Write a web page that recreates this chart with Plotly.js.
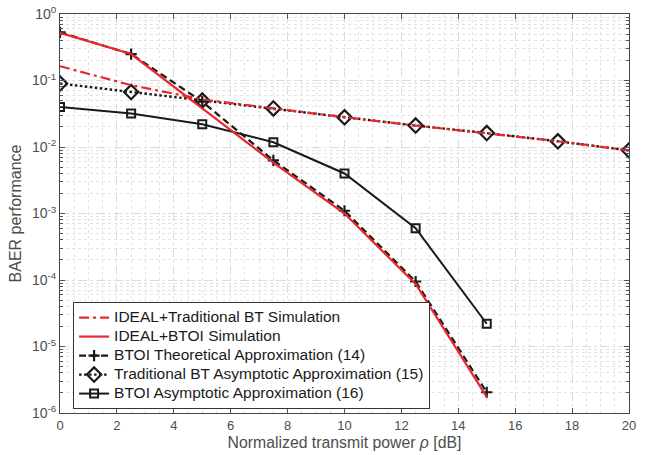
<!DOCTYPE html>
<html><head><meta charset="utf-8">
<script src="https://cdn.plot.ly/plotly-3.0.1.min.js"></script>
<style>html,body{margin:0;padding:0;background:#fff}#chart{width:648px;height:455px}</style>
</head><body><div id="chart"></div>
<script>
const xFull = [0, 2.5, 5, 7.5, 10, 12.5, 15, 17.5, 20];
const xBTOI = [0, 2.5, 5, 7.5, 10, 12.5, 15];
const idealTraditional = [0.164, 0.085, 0.052, 0.038, 0.028, 0.021, 0.0162, 0.0122, 0.0089];
const idealBTOI = [0.52, 0.25, 0.038, 0.0058, 0.00100, 8.7e-5, 1.75e-6];
const btoiTheory = [0.53, 0.25, 0.048, 0.0063, 0.0011, 9.5e-5, 2.05e-6];
const tradAsym = [0.090, 0.067, 0.050, 0.038, 0.028, 0.021, 0.0162, 0.0122, 0.0089];
const btoiAsym = [0.040, 0.032, 0.022, 0.0118, 0.0040, 6.0e-4, 2.2e-5];
const names = ['IDEAL+Traditional BT Simulation','IDEAL+BTOI Simulation','BTOI Theoretical Approximation (14)','Traditional BT Asymptotic Approximation (15)','BTOI Asymptotic Approximation (16)'];
const yTickVals = [1e-6,1e-5,1e-4,1e-3,1e-2,1e-1,1];
const yTickText = ['10<sup>-6</sup>','10<sup>-5</sup>','10<sup>-4</sup>','10<sup>-3</sup>','10<sup>-2</sup>','10<sup>-1</sup>','10<sup>0</sup>'];
const xTickVals = [0,2,4,6,8,10,12,14,16,18,20];

const big = s => '<span style="font-size:15.5px">' + s + '</span>';
const red = '#e8282b', blk = '#1a1a1a';
const traces = [
  {x: xFull, y: idealTraditional, name: big(names[0]), legendrank:1, mode:'lines', line:{color:red, width:2.2, dash:'10px,4px,3px,4px'}},
  {x: xBTOI, y: idealBTOI, name: big(names[1]), legendrank:2, mode:'lines', line:{color:red, width:2.2}},
  {x: xBTOI, y: btoiTheory, name: big(names[2]), legendrank:3, mode:'lines+markers', line:{color:blk, width:2.2, dash:'7px,4px'},
   marker:{symbol:'cross-thin', size:8, color:blk, line:{color:blk, width:2.2}}},
  {x: xFull, y: tradAsym, name: big(names[3]), legendrank:4, mode:'lines+markers', line:{color:blk, width:2.4, dash:'2.5px,2.5px'},
   marker:{symbol:'diamond-open', size:11, color:blk, line:{color:blk, width:2.2}}},
  {x: xBTOI, y: btoiAsym, name: big(names[4]), legendrank:5, mode:'lines+markers', line:{color:blk, width:2},
   marker:{symbol:'square-open', size:8, color:blk, line:{color:blk, width:2}}}
];
// draw red dashdot above diamond dotted
const ordered = [traces[3], traces[4], traces[2], traces[1], traces[0]];
const layout = {
  width:648, height:455,
  margin:{l:60, r:19, t:14, b:42},
  paper_bgcolor:'#fff', plot_bgcolor:'#fff',
  font:{family:'Liberation Sans, Arial, sans-serif', color:'#262626'},
  showlegend:true,
  legend:{x:0.023, y:0.278, xanchor:'left', yanchor:'top', bgcolor:'#fff', bordercolor:'#333', borderwidth:1,
    font:{size:12.3, color:'#1a1a1a'}, traceorder:'normal', tracegroupgap:0},
  xaxis:{range:[0,20], tickmode:'array', tickvals:xTickVals, ticks:'inside', ticklen:5, tickcolor:'#555',
    showline:true, linecolor:'#444', linewidth:1, mirror:'ticks', zeroline:false,
    showgrid:true, gridcolor:'#dcdcdc', griddash:'dash', gridwidth:1,
    tickfont:{size:13, color:'#4d4d4d'},
    minor:{tickmode:'linear', tick0:0, dtick:0.5, showgrid:true, gridcolor:'#e3e3e3', griddash:'dot', ticks:''},
    title:{text:'Normalized transmit power <i>ρ</i> [dB]', font:{size:15.8, color:'#4d4d4d'}, standoff:5}},
  yaxis:{type:'log', range:[-6,0], tickmode:'array', tickvals:yTickVals, ticktext:yTickText, ticks:'inside', ticklen:5, tickcolor:'#555',
    showline:true, linecolor:'#444', linewidth:1, mirror:'ticks', zeroline:false,
    showgrid:true, gridcolor:'#dcdcdc', griddash:'dash', gridwidth:1,
    tickfont:{size:14, color:'#4d4d4d'},
    minor:{tickmode:'linear', dtick:'D1', showgrid:true, gridcolor:'#e3e3e3', griddash:'dot', ticks:'inside', ticklen:3, tickcolor:'#555'},
    title:{text:'BAER performance', font:{size:16, color:'#4d4d4d'}, standoff:6}}
};
Plotly.newPlot('chart', ordered, layout, {displayModeBar:false, staticPlot:true});
</script></body></html>
